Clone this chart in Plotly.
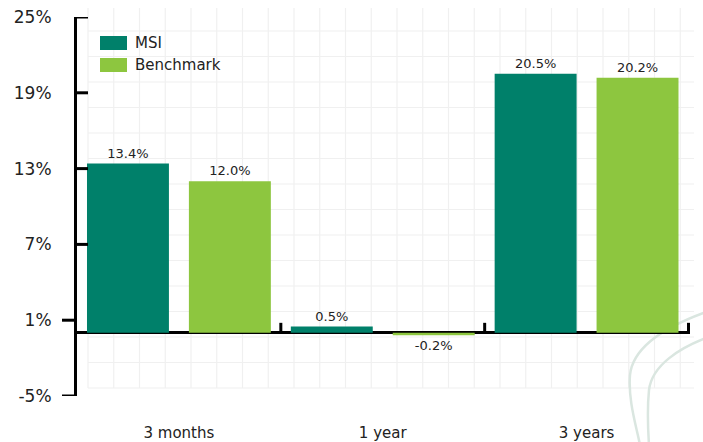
import plotly.graph_objects as go

categories = ["3 months", "1 year", "3 years"]
msi = [13.4, 0.5, 20.5]
benchmark = [12.0, -0.2, 20.2]
series_names = ["MSI", "Benchmark"]
series_colors = ["#00806a", "#8dc63f"]
y_tickvals = [-5, 1, 7, 13, 19, 25]
y_ticktext = ["-5%", "1%", "7%", "13%", "19%", "25%"]
inside_ticks = [7, 13, 19, 25]
outside_ticks = [-5, 1]

W, H = 703, 442
L, R, T, B = 77, 13, 17, 46
PW, PH = W - L - R, H - T - B
FONT = "Verdana, DejaVu Sans, sans-serif"


def px(x):
    return (x - L) / PW


def py(y):
    return (H - B - y) / PH


fig = go.Figure()
for name, vals, col in zip(series_names, [msi, benchmark], series_colors):
    fig.add_trace(go.Bar(
        x=categories, y=vals, name=name, marker=dict(color=col, line=dict(width=0)),
        texttemplate="%{y:.1f}%", textposition="outside",
        textfont=dict(family=FONT, size=13, color="#222"), cliponaxis=False,
    ))

shapes = []
# background graph-paper grid (decoration)
gx = 88.0
while gx <= 694:
    shapes.append(dict(type="line", xref="paper", yref="paper", x0=px(gx), x1=px(gx),
                       y0=py(8), y1=py(388), line=dict(color="#f0f0f0", width=1.2), layer="below"))
    gx += 25.75
gy = 31.0
while gy <= 389:
    shapes.append(dict(type="line", xref="paper", yref="paper", x0=px(88), x1=px(694),
                       y0=py(gy), y1=py(gy), line=dict(color="#f0f0f0", width=1.2), layer="below"))
    gy += 25.5


def path(start, *segs):
    s = "M %f,%f" % (px(start[0]), py(start[1]))
    for seg in segs:
        s += " C " + " ".join("%f,%f" % (px(a), py(b)) for a, b in seg)
    return s


CURVE = dict(color="#dae6e0", width=2.5)
# decorative background curves (part behind the bars, part below the plot area)
shapes.append(dict(type="path", xref="paper", yref="paper", layer="below", line=CURVE,
                   path=path((706, 312), [(670, 325), (633, 345), (630, 375)])))
shapes.append(dict(type="path", xref="paper", yref="paper", layer="above", line=CURVE,
                   path=path((630, 375), [(628, 400), (636, 425), (640, 445)])))
shapes.append(dict(type="path", xref="paper", yref="paper", layer="above", line=CURVE,
                   path=path((706, 338), [(680, 348), (652, 365), (649, 390)],
                             [(647, 410), (648, 430), (649, 445)])))

# y tick marks: inside for upper values, outside for lower values
for v in inside_ticks:
    shapes.append(dict(type="line", xref="paper", yref="y", xsizemode="pixel", xanchor=0,
                       x0=0, x1=11, y0=v, y1=v, line=dict(color="black", width=3), layer="above"))
for v in outside_ticks:
    shapes.append(dict(type="line", xref="paper", yref="y", xsizemode="pixel", xanchor=0,
                       x0=-15, x1=0, y0=v, y1=v, line=dict(color="black", width=3), layer="above"))
# category boundary ticks on the zero line
for i in range(1, len(categories) + 1):
    shapes.append(dict(type="line", xref="x", yref="y", ysizemode="pixel", yanchor=0,
                       x0=i - 0.5, x1=i - 0.5, y0=0, y1=10,
                       line=dict(color="black", width=3), layer="above"))

# custom legend
annotations = []
for k, (name, col) in enumerate(zip(series_names, series_colors)):
    top = 36 + 22 * k
    shapes.append(dict(type="rect", xref="paper", yref="paper", x0=px(100), x1=px(127),
                       y0=py(top), y1=py(top + 14), fillcolor=col, line=dict(width=0)))
    annotations.append(dict(xref="paper", yref="paper", x=px(133), y=py(top + 7),
                            xanchor="left", yanchor="middle", text=name, showarrow=False,
                            font=dict(family=FONT, size=15, color="#222")))

fig.update_layout(
    width=W, height=H, margin=dict(l=L, r=R, t=T, b=B, autoexpand=False),
    paper_bgcolor="white", plot_bgcolor="rgba(0,0,0,0)",
    barmode="group", bargap=0.0, bargroupgap=0.196, showlegend=False,
    shapes=shapes, annotations=annotations,
    font=dict(family=FONT, color="#222"),
    xaxis=dict(type="category", showline=False, showgrid=False, ticks="", automargin=False,
               ticklabelstandoff=26, tickfont=dict(family=FONT, size=15, color="#222")),
    yaxis=dict(range=[-5, 25], tickvals=y_tickvals, ticktext=y_ticktext, ticks="",
               automargin=False,
               showline=True, linewidth=3, linecolor="black", showgrid=False,
               zeroline=True, zerolinecolor="black", zerolinewidth=3,
               ticklabelstandoff=19, tickfont=dict(family=FONT, size=17, color="#222")),
)

fig.write_html("out.html", config={"displayModeBar": False},
               post_script="document.body.style.margin='0';document.body.style.overflow='hidden';")
